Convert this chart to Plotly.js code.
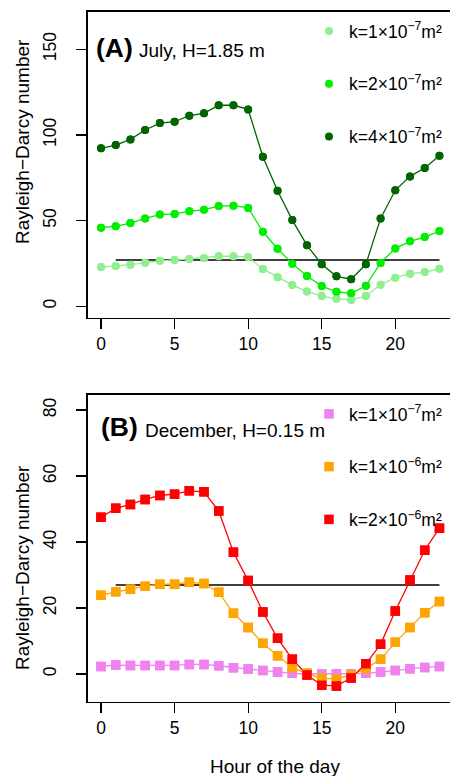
<!DOCTYPE html>
<html><head><meta charset="utf-8">
<script src="https://cdn.plot.ly/plotly-3.0.1.min.js"></script>
<style>html,body{margin:0;padding:0;overflow:hidden;background:#fff}#chart{width:450px;height:776px}</style>
</head><body><div id="chart"></div>
<script>
// ---------- data ----------
const hours = [0,1,2,3,4,5,6,7,8,9,10,11,12,13,14,15,16,17,18,19,20,21,22,23];
// Panel A: July, H=1.85 m
const julyK1 = [22.9,23.5,24.3,25.4,26.6,27.0,27.6,28.2,29.2,29.2,28.8,21.8,16.9,12.4,8.7,6.0,4.4,3.7,6.0,12.6,16.7,19.0,20.0,21.9];
const julyK2 = [45.9,46.7,48.6,51.3,53.5,53.9,55.4,56.4,58.5,58.7,57.4,43.5,33.6,24.9,17.7,11.8,8.5,7.6,12.0,25.3,33.8,37.9,40.4,43.9];
const julyK4 = [92.2,94.1,97.4,102.9,106.9,107.7,111.2,112.6,117.3,117.3,114.9,87.3,67.4,50.3,35.6,24.5,17.5,15.8,24.5,51.3,67.7,75.8,80.7,87.9];
const julyLabels = ["k=1×10<sup>−7</sup>m²","k=2×10<sup>−7</sup>m²","k=4×10<sup>−7</sup>m²"];
// Panel B: December, H=0.15 m
const decK1 = [2.3,2.7,2.6,2.6,2.6,2.6,2.9,2.9,2.5,1.9,1.5,1.1,0.6,0.2,0.0,0.0,0.1,0.1,0.2,0.6,1.1,1.6,2.0,2.3];
const decK10 = [23.9,24.9,25.7,26.6,27.2,27.2,27.8,27.4,24.8,18.4,14.1,9.3,5.5,1.9,0.2,-1.3,-1.5,-0.3,1.6,4.5,9.6,14.1,18.6,22.0];
const decK20 = [47.5,50.2,51.4,52.9,54.1,54.5,55.5,55.2,49.4,36.9,28.3,18.8,10.8,4.5,-0.3,-3.4,-3.6,-1.2,3.1,9.0,19.1,28.5,37.5,44.2];
const decLabels = ["k=1×10<sup>−7</sup>m²","k=1×10<sup>−6</sup>m²","k=2×10<sup>−6</sup>m²"];
// critical Rayleigh-Darcy number line
const critX = [1, 23];
const critValue = 27;
const xTicks = [0,5,10,15,20];
const yTicksA = [0,50,100,150];
const yTicksB = [0,20,40,60,80];

// ---------- layout helpers ----------
const W = 450, H = 776, ML = 88, MR = 0;
const px = x => (x - ML) / (W - ML - MR);
const py = y => (H - y) / H;
const FONT = 'Liberation Sans, Arial, Helvetica, sans-serif';

const colsA = ['#90EE90', '#00EE00', '#006400'];
const colsB = ['#EE82EE', '#FFA500', '#FF0000'];
const seriesA = [julyK1, julyK2, julyK4];
const seriesB = [decK1, decK10, decK20];

const traces = [];
// reference line (under)
traces.push({x: critX, y: [critValue, critValue], xaxis:'x', yaxis:'y', mode:'lines', line:{color:'#000', width:1.5}, showlegend:false, hoverinfo:'skip'});
traces.push({x: critX, y: [critValue, critValue], xaxis:'x2', yaxis:'y2', mode:'lines', line:{color:'#000', width:1.5}, showlegend:false, hoverinfo:'skip'});
seriesA.forEach((s, i) => {
  traces.push({x: hours, y: s, xaxis:'x', yaxis:'y', mode:'lines+markers', line:{color:colsA[i], width:1.3},
    marker:{color:colsA[i], size:8, symbol:'circle'}, showlegend:false});
});
seriesA.forEach((s, i) => {
  traces.push({x: hours, y: s, xaxis:'x', yaxis:'y', mode:'markers', name: julyLabels[i], legend:'legend', legendgroup:'a'+i,
    marker:{color:colsA[i], size:8, symbol:'circle'}, showlegend:true});
});
seriesB.forEach((s, i) => {
  traces.push({x: hours, y: s, xaxis:'x2', yaxis:'y2', mode:'lines+markers', line:{color:colsB[i], width:1.3},
    marker:{color:colsB[i], size:9.5, symbol:'square'}, showlegend:false});
});
seriesB.forEach((s, i) => {
  traces.push({x: hours, y: s, xaxis:'x2', yaxis:'y2', mode:'markers', name: decLabels[i], legend:'legend2', legendgroup:'b'+i,
    marker:{color:colsB[i], size:9.5, symbol:'square'}, showlegend:true});
});

const xCommon = {
  tickvals: xTicks, ticks:'outside', ticklen:10, tickwidth:1.3, tickcolor:'#000',
  showline:true, mirror:true, linecolor:'#000', linewidth:1.6, showgrid:false, zeroline:false,
  tickfont:{family:FONT, size:17.5, color:'#000'}, range:[(ML-101)/14.715, (W-101)/14.715], fixedrange:true
};
const yCommon = {
  ticks:'outside', ticklen:10, tickwidth:1.3, tickcolor:'#000', tickangle:-90,
  showline:true, mirror:false, linecolor:'#000', linewidth:1.6, showgrid:false, zeroline:false,
  tickfont:{family:FONT, size:17.5, color:'#000'}, ticklabelstandoff:13
};

const annFont = {family:FONT, size:19, color:'#000'};
const layout = {
  width: W, height: H,
  margin:{l:ML, r:MR, t:0, b:0},
  paper_bgcolor:'#fff', plot_bgcolor:'#fff',
  font:{family:FONT, color:'#000'},
  xaxis: Object.assign({}, xCommon, {anchor:'y', domain:[0,1]}),
  yaxis: Object.assign({}, yCommon, {anchor:'x', domain:[py(317.7), py(11.7)], range:[-6.65, 171.9], tickvals:yTicksA}),
  xaxis2: Object.assign({}, xCommon, {anchor:'y2', domain:[0,1]}),
  yaxis2: Object.assign({}, yCommon, {anchor:'x2', domain:[py(701.7), py(395)], range:[-8.39, 84.55], tickvals:yTicksB}),
  legend: {x:px(309), y:py(13), xanchor:'left', yanchor:'top', bgcolor:'rgba(0,0,0,0)', tracegroupgap:27,
    font:{family:FONT, size:17.5, color:'#000'}},
  legend2: {x:px(309), y:py(396), xanchor:'left', yanchor:'top', bgcolor:'rgba(0,0,0,0)', tracegroupgap:27,
    font:{family:FONT, size:17.5, color:'#000'}},
  showlegend:true,
  annotations:[
    {text:'<b>(A)</b>', xref:'paper', yref:'paper', x:px(94), y:py(48), xanchor:'left', yanchor:'middle', showarrow:false, font:{family:FONT, size:26.5, color:'#000'}},
    {text:'July, H=1.85 m', xref:'paper', yref:'paper', x:px(137), y:py(51), xanchor:'left', yanchor:'middle', showarrow:false, font:annFont},
    {text:'<b>(B)</b>', xref:'paper', yref:'paper', x:px(99), y:py(427), xanchor:'left', yanchor:'middle', showarrow:false, font:{family:FONT, size:26.5, color:'#000'}},
    {text:'December, H=0.15 m', xref:'paper', yref:'paper', x:px(143), y:py(430), xanchor:'left', yanchor:'middle', showarrow:false, font:annFont},
    {text:'Rayleigh−Darcy number', xref:'paper', yref:'paper', x:px(22), y:py(142), textangle:-90, xanchor:'center', yanchor:'middle', showarrow:false, font:annFont},
    {text:'Rayleigh−Darcy number', xref:'paper', yref:'paper', x:px(22), y:py(568), textangle:-90, xanchor:'center', yanchor:'middle', showarrow:false, font:annFont},
    {text:'Hour of the day', xref:'paper', yref:'paper', x:px(275), y:py(766), xanchor:'center', yanchor:'middle', showarrow:false, font:annFont}
  ]
};
Plotly.newPlot('chart', traces, layout, {staticPlot:true, displayModeBar:false});
</script>
</body></html>
